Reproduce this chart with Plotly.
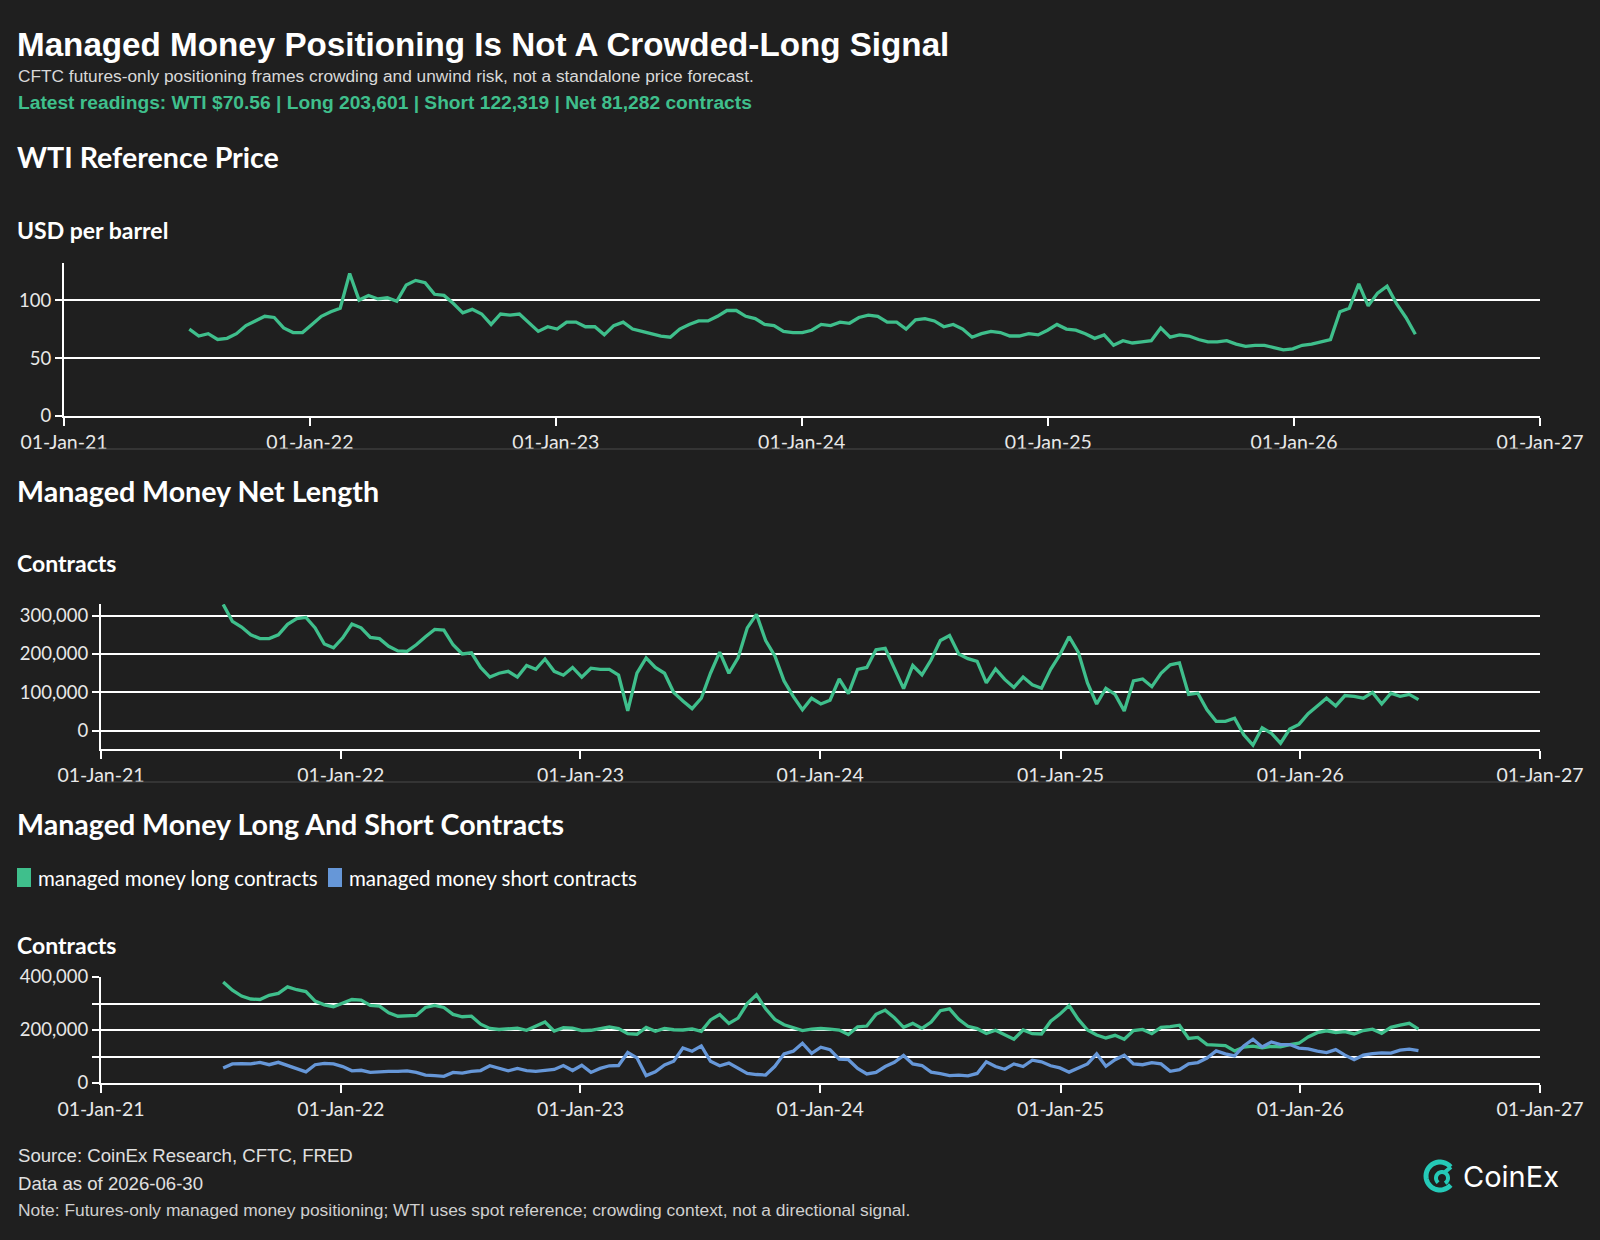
import math
import pandas as pd
import plotly.graph_objects as go

# ---------------- data ----------------
dates = pd.date_range("2021-07-06", periods=131, freq="14D")

wti_price = [
    75, 69, 71, 66, 67, 71, 78, 82, 86, 85,
    76, 72, 72, 79, 86, 90, 93, 123, 100, 104,
    101, 102, 99, 113, 117, 115, 105, 104, 97, 89,
    92, 88, 79, 88, 87, 88, 80, 73, 77, 75,
    81, 81, 77, 77, 70, 78, 81, 75, 73, 71,
    69, 68, 75, 79, 82, 82, 86, 91, 91, 86,
    84, 79, 78, 73, 72, 72, 74, 79, 78, 81,
    80, 85, 87, 86, 81, 81, 75, 83, 84, 82,
    77, 79, 75, 68, 71, 73, 72, 69, 69, 71,
    70, 74, 79, 75, 74, 71, 67, 70, 61, 65,
    63, 64, 65, 76, 68, 70, 69, 66, 64, 64,
    65, 62, 60, 61, 61, 59, 57, 58, 61, 62,
    64, 66, 90, 93, 114, 95, 106, 112, 97, 85,
    70.56,
]

net_length = [
    329000, 285000, 270000, 250000, 240000, 240000, 250000, 277000, 292000, 295000,
    268000, 226000, 216000, 242000, 278000, 268000, 243000, 240000, 220000, 208000,
    207000, 224000, 245000, 264000, 262000, 224000, 200000, 203000, 165000, 140000,
    150000, 155000, 140000, 170000, 160000, 187000, 155000, 145000, 165000, 140000,
    163000, 160000, 160000, 145000, 52000, 150000, 190000, 165000, 150000, 100000,
    78000, 58000, 85000, 150000, 205000, 150000, 190000, 268000, 303000, 235000,
    195000, 130000, 90000, 55000, 85000, 70000, 80000, 135000, 97000, 160000,
    165000, 211000, 215000, 163000, 110000, 170000, 146000, 185000, 235000, 248000,
    200000, 188000, 181000, 125000, 161000, 134000, 113000, 140000, 120000, 111000,
    160000, 198000, 245000, 205000, 125000, 70000, 111000, 95000, 52000, 130000,
    135000, 115000, 150000, 172000, 177000, 95000, 98000, 55000, 25000, 25000,
    33000, -10000, -37000, 8000, -6000, -32000, 5000, 17000, 45000, 65000,
    85000, 65000, 92000, 90000, 85000, 100000, 70000, 98000, 90000, 95000,
    81282,
]

long_contracts = [
    381000, 350000, 328000, 317000, 315000, 331000, 338000, 363000, 352000, 345000,
    309000, 295000, 288000, 300000, 315000, 313000, 293000, 290000, 265000, 252000,
    255000, 255000, 285000, 293000, 285000, 259000, 250000, 252000, 222000, 206000,
    202000, 203000, 207000, 199000, 214000, 230000, 196000, 209000, 207000, 198000,
    199000, 205000, 212000, 205000, 186000, 184000, 210000, 195000, 206000, 201000,
    200000, 204000, 195000, 238000, 258000, 225000, 245000, 300000, 333000, 280000,
    240000, 220000, 210000, 198000, 203000, 206000, 203000, 200000, 183000, 212000,
    215000, 259000, 275000, 246000, 210000, 225000, 206000, 230000, 273000, 280000,
    240000, 214000, 205000, 187000, 199000, 182000, 165000, 200000, 186000, 185000,
    233000, 260000, 292000, 240000, 200000, 181000, 170000, 180000, 165000, 198000,
    202000, 186000, 210000, 213000, 218000, 168000, 172000, 145000, 144000, 141000,
    121000, 135000, 139000, 133000, 138000, 136000, 145000, 150000, 174000, 190000,
    197000, 190000, 194000, 185000, 198000, 203000, 187000, 210000, 218000, 225000,
    203601,
]

short_contracts = [
    57000, 72000, 73000, 72000, 78000, 69000, 78000, 66000, 55000, 42000,
    69000, 74000, 72000, 62000, 46000, 48000, 40000, 43000, 44000, 44000,
    46000, 40000, 30000, 28000, 25000, 40000, 37000, 44000, 47000, 65000,
    57000, 46000, 55000, 47000, 44000, 49000, 51000, 66000, 47000, 67000,
    40000, 55000, 65000, 66000, 115000, 95000, 28000, 42000, 68000, 82000,
    132000, 120000, 140000, 82000, 65000, 75000, 57000, 36000, 32000, 30000,
    63000, 110000, 120000, 150000, 112000, 135000, 126000, 90000, 88000, 55000,
    34000, 40000, 62000, 78000, 104000, 72000, 66000, 41000, 35000, 28000,
    30000, 27000, 36000, 80000, 62000, 52000, 72000, 62000, 86000, 80000,
    65000, 57000, 41000, 55000, 72000, 110000, 63000, 88000, 105000, 72000,
    69000, 77000, 72000, 44000, 50000, 72000, 77000, 94000, 121000, 110000,
    102000, 140000, 165000, 136000, 155000, 145000, 145000, 132000, 129000, 120000,
    115000, 126000, 105000, 88000, 105000, 111000, 114000, 113000, 124000, 128000,
    122319,
]

x_tick_dates = ["2021-01-01", "2022-01-01", "2023-01-01", "2024-01-01",
                "2025-01-01", "2026-01-01", "2027-01-01"]
x_tick_labels = ["01-Jan-21", "01-Jan-22", "01-Jan-23", "01-Jan-24",
                 "01-Jan-25", "01-Jan-26", "01-Jan-27"]

wti_ticks = [0, 50, 100]
wti_tick_labels = ["0", "50", "100"]
net_ticks = [0, 100000, 200000, 300000]
net_tick_labels = ["0", "100,000", "200,000", "300,000"]
ls_ticks = [0, 100000, 200000, 300000, 400000]
ls_tick_labels = ["0", "", "200,000", "", "400,000"]

series_names = ["managed money long contracts", "managed money short contracts"]

# ---------------- style ----------------
W, H = 1600, 1240
BG = "#1f1f1f"
GREEN = "#3fbf8c"
BLUE = "#6697d8"
WHITE = "#ffffff"
TICK_TXT = "#e8e8e8"
SANS = "Source Sans Pro, Lato, Noto Sans, sans-serif"
ARIAL = "Liberation Sans, Arial, sans-serif"


def px(x):
    return x / W


def py(y):
    return 1 - y / H


fig = go.Figure()

fig.add_trace(go.Scatter(x=dates, y=wti_price, mode="lines", name="WTI",
                         line=dict(color=GREEN, width=3.3), xaxis="x", yaxis="y",
                         showlegend=False))
fig.add_trace(go.Scatter(x=dates, y=net_length, mode="lines", name="net length",
                         line=dict(color=GREEN, width=3.3), xaxis="x2", yaxis="y2",
                         showlegend=False))
fig.add_trace(go.Scatter(x=dates, y=long_contracts, mode="lines", name=series_names[0],
                         line=dict(color=GREEN, width=3.3), xaxis="x3", yaxis="y3",
                         showlegend=False))
fig.add_trace(go.Scatter(x=dates, y=short_contracts, mode="lines", name=series_names[1],
                         line=dict(color=BLUE, width=3.3), xaxis="x3", yaxis="y3",
                         showlegend=False))

xrange = ["2020-12-31 23:00", "2027-01-01 01:00"]


def xaxis(dom, anchor):
    return dict(domain=dom, anchor=anchor, type="date", range=xrange,
                tickvals=x_tick_dates, ticktext=x_tick_labels,
                showgrid=False, zeroline=False, showline=True,
                linecolor=WHITE, linewidth=2, ticks="outside", ticklen=8,
                tickwidth=2, tickcolor=WHITE, automargin=False,
                tickfont=dict(family=SANS, size=19.5, color=TICK_TXT),
                fixedrange=True)


def yaxis(dom, anchor, rng, tv, tt):
    return dict(domain=dom, anchor=anchor, range=rng, tickvals=tv, ticktext=tt,
                showgrid=True, gridcolor=WHITE, gridwidth=2, zeroline=False,
                showline=True, linecolor=WHITE, linewidth=2, ticks="outside",
                ticklen=7, tickwidth=2, tickcolor=WHITE, automargin=False,
                tickfont=dict(family=SANS, size=18.5, color=TICK_TXT),
                fixedrange=True)


fig.update_layout(
    template="none",
    width=W, height=H,
    margin=dict(l=0, r=0, t=0, b=0, pad=0, autoexpand=False),
    paper_bgcolor=BG, plot_bgcolor=BG,
    showlegend=False,
    xaxis=xaxis([px(64), px(1540)], "y"),
    yaxis=yaxis([py(416), py(263)], "x", [0, 132], wti_ticks, wti_tick_labels),
    xaxis2=xaxis([px(101), px(1540)], "y2"),
    yaxis2=yaxis([py(749), py(604)], "x2", [-47000, 330000], net_ticks, net_tick_labels),
    xaxis3=xaxis([px(101), px(1540)], "y3"),
    yaxis3=yaxis([py(1083), py(977)], "x3", [0, 400000], ls_ticks, ls_tick_labels),
)

annotations = []


def text(x, y, s, size, color=WHITE, family=SANS, bold=False):
    annotations.append(dict(
        xref="paper", yref="paper", x=px(x), y=py(y), xanchor="left", yanchor="middle",
        text=("<b>%s</b>" % s) if bold else s, showarrow=False,
        font=dict(family=family, size=size, color=color)))


text(15, 44, "Managed Money Positioning Is Not A Crowded-Long Signal", 33.2, WHITE, ARIAL, True)
text(16, 76, "CFTC futures-only positioning frames crowding and unwind risk, not a standalone price forecast.",
     17.3, "#d9d9d9", ARIAL)
text(16, 102, "Latest readings: WTI $70.56 | Long 203,601 | Short 122,319 | Net 81,282 contracts",
     19.2, GREEN, ARIAL, True)

text(15, 157, "WTI Reference Price", 28.6, WHITE, SANS, True)
text(15, 230, "USD per barrel", 23, WHITE, SANS, True)
text(15, 491, "Managed Money Net Length", 28.6, WHITE, SANS, True)
text(15, 563, "Contracts", 23, WHITE, SANS, True)
text(15, 824, "Managed Money Long And Short Contracts", 28.6, WHITE, SANS, True)
text(15, 945, "Contracts", 23, WHITE, SANS, True)

# legend (manual)
text(36, 878, series_names[0], 20.5, WHITE, SANS)
text(347, 878, series_names[1], 20.5, WHITE, SANS)

text(16, 1155, "Source: CoinEx Research, CFTC, FRED", 18.6, "#e0e0e0", ARIAL)
text(16, 1183, "Data as of 2026-06-30", 18.6, "#e0e0e0", ARIAL)
text(16, 1210, "Note: Futures-only managed money positioning; WTI uses spot reference; crowding context, not a directional signal.",
     17.4, "#d0d0d0", ARIAL)

text(1461, 1176, "CoinEx", 29, WHITE, "Inter, Lato, sans-serif")

fig.update_layout(annotations=annotations)

shapes = []
# legend swatches
for x0, col in [(17, GREEN), (328, BLUE)]:
    shapes.append(dict(type="rect", xref="paper", yref="paper",
                       x0=px(x0), x1=px(x0 + 14), y0=py(887), y1=py(868),
                       fillcolor=col, line=dict(width=0), layer="above"))

# faint separator lines
for x0, yy in [(64, 449), (101, 782)]:
    shapes.append(dict(type="line", xref="paper", yref="paper",
                       x0=px(x0), x1=px(1540), y0=py(yy), y1=py(yy),
                       line=dict(color="#4a4a4a", width=1)))


# CoinEx logo icon (approximate)
def arc_path(cx, cy, r, a0, a1, n=30):
    pts = []
    for i in range(n + 1):
        a = math.radians(a0 + (a1 - a0) * i / n)
        pts.append((px(cx + r * math.cos(a)), py(cy - r * math.sin(a))))
    return "M " + " L ".join("%.5f,%.5f" % p for p in pts)


shapes.append(dict(type="path", xref="paper", yref="paper",
                   path=arc_path(1440, 1176, 14, 40, 320),
                   line=dict(color="#25c9b7", width=5)))
shapes.append(dict(type="path", xref="paper", yref="paper",
                   path=arc_path(1442, 1178, 6, -60, 230),
                   line=dict(color="#25c9b7", width=4)))
shapes.append(dict(type="path", xref="paper", yref="paper",
                   path="M %.5f,%.5f L %.5f,%.5f" % (px(1451), py(1167), px(1445), py(1172)),
                   line=dict(color="#25c9b7", width=4)))
fig.update_layout(shapes=shapes)

fig.write_html("out.html")
